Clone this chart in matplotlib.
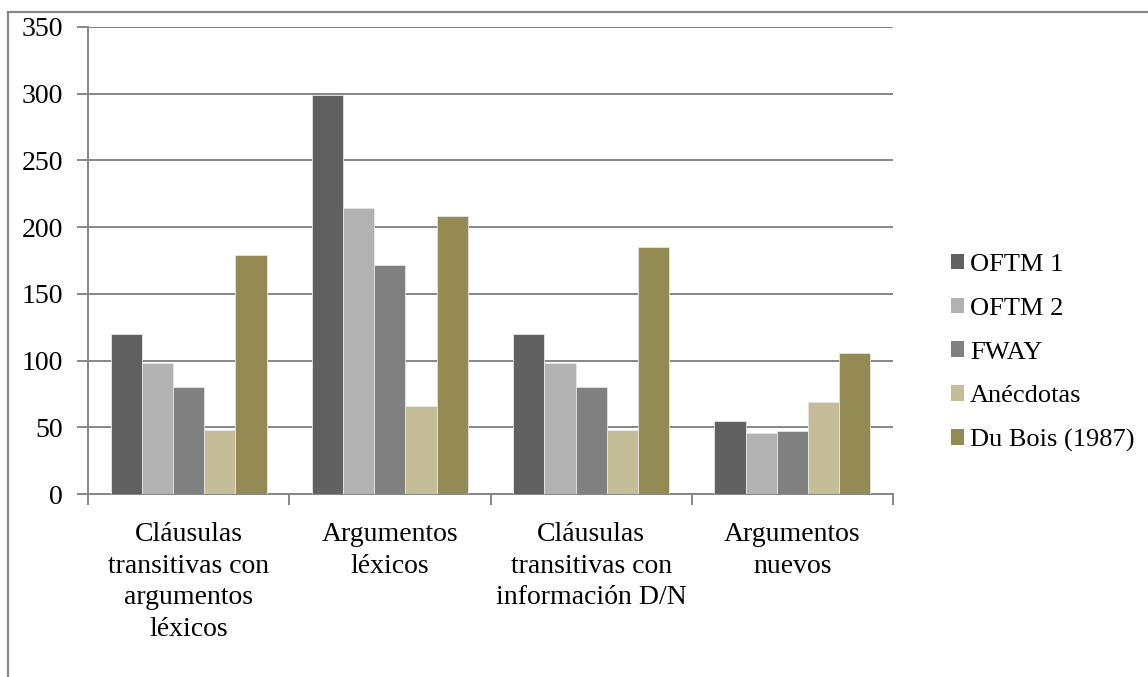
import matplotlib
matplotlib.use("Agg")
import matplotlib.pyplot as plt
from matplotlib.patches import Patch, Rectangle
import numpy as np

plt.rcParams["font.family"] = ["Liberation Serif", "DejaVu Serif"]

categories = [
    "Cláusulas\ntransitivas con\nargumentos\nléxicos",
    "Argumentos\nléxicos",
    "Cláusulas\ntransitivas con\ninformación D/N",
    "Argumentos\nnuevos",
]
series_names = ["OFTM 1", "OFTM 2", "FWAY", "Anécdotas", "Du Bois (1987)"]
oftm1 = [120, 299, 120, 55]
oftm2 = [98, 214, 98, 46]
fway = [80, 172, 80, 47]
anecdotas = [48, 66, 48, 69]
du_bois = [179, 208, 185, 106]
series = [oftm1, oftm2, fway, anecdotas, du_bois]
colors = ["#616161", "#b2b2b2", "#808080", "#c4bd97", "#948a54"]

W, H = 1148, 677
fig = plt.figure(figsize=(W / 100, H / 100), dpi=100)
ax = fig.add_axes([88 / W, 1 - 494 / H, (893 - 88) / W, (494 - 27) / H])

grey = "#868686"
x = np.arange(len(categories))
bw = 0.155
for i, (vals, col) in enumerate(zip(series, colors)):
    ax.bar(x + (i - 2) * bw, vals, width=bw, color=col,
           edgecolor="#e6e6e6", linewidth=0.6, zorder=3)

ax.set_xlim(-0.5, len(categories) - 0.5)
ax.set_ylim(0, 350)
ax.set_yticks(np.arange(0, 351, 50))
ax.yaxis.grid(True, color=grey, linewidth=1.4, zorder=0)
ax.set_axisbelow(True)

# category labels at the centres, tick marks on the boundaries
ax.set_xticks(x)
ax.set_xticklabels(categories, linespacing=1.36)
ax.set_xticks(np.arange(-0.5, len(categories)), minor=True)
ax.tick_params(axis="x", which="major", length=0, pad=20, labelsize=20)
ax.tick_params(axis="x", which="minor", length=8, width=1.4, color=grey)
ax.tick_params(axis="y", length=8, width=1.4, color=grey, pad=10,
               labelsize=20)

for side in ["top", "right"]:
    ax.spines[side].set_visible(False)
for side in ["left", "bottom"]:
    ax.spines[side].set_color(grey)
    ax.spines[side].set_linewidth(1.4)

handles = [Patch(facecolor=c, edgecolor="none") for c in colors]
fig.legend(handles, series_names, loc="center left",
           bbox_to_anchor=(927 / W, 1 - 353 / H), frameon=False,
           fontsize=19, handlelength=0.52, handleheight=0.52,
           handletextpad=0.2, labelspacing=0.82)

# outer frame around the chart area
fig.add_artist(Rectangle((8 / W, -0.1), 1.2, 1.1 - 12 / H,
                         transform=fig.transFigure, fill=False,
                         edgecolor=grey, linewidth=1.6))

fig.savefig("out.png", dpi=100)
